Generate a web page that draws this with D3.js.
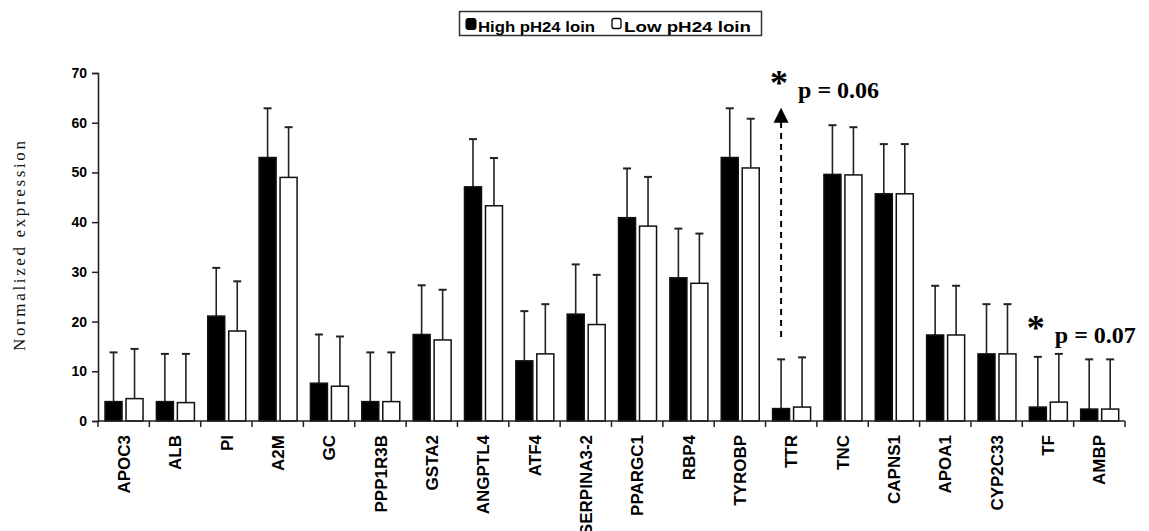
<!DOCTYPE html>
<html><head><meta charset="utf-8">
<script src="https://cdn.jsdelivr.net/npm/d3@7"></script>
<style>body{margin:0;background:#fff}svg{display:block}</style>
</head><body>
<svg id="chart" width="1149" height="531"></svg>
<script>
const categories = ["APOC3","ALB","PI","A2M","GC","PPP1R3B","GSTA2","ANGPTL4","ATF4","SERPINA3-2","PPARGC1","RBP4","TYROBP","TTR","TNC","CAPNS1","APOA1","CYP2C33","TF","AMBP"];
const highValues = [3.9,3.9,21.1,53.0,7.6,3.9,17.4,47.1,12.1,21.5,40.9,28.8,53.0,2.5,49.6,45.7,17.3,13.5,2.8,2.4];
const highErrTop = [13.8,13.5,30.8,62.9,17.4,13.8,27.3,56.7,22.1,31.5,50.8,38.7,62.9,12.4,59.5,55.7,27.2,23.5,12.9,12.4];
const lowValues  = [4.5,3.7,18.1,49.0,7.0,3.9,16.3,43.3,13.5,19.4,39.2,27.7,50.9,2.8,49.5,45.7,17.3,13.5,3.8,2.4];
const lowErrTop  = [14.5,13.5,28.1,59.1,17.0,13.8,26.4,52.9,23.5,29.4,49.1,37.7,60.8,12.8,59.1,55.7,27.2,23.5,13.5,12.4];
const seriesNames = ["High pH24 loin","Low pH24 loin"];
const yTicks = [0,10,20,30,40,50,60,70];
const annotations = [
  {category:"TTR", text:"p = 0.06", textValue:65.0, arrowFrom:16.9, arrowTo:63.0},
  {category:"TF",  text:"p = 0.07", textValue:15.75}
];

const svg = d3.select("#chart");
const x = d3.scaleBand().domain(categories).range([98,1125]).padding(0);
const bw = x.bandwidth();
const xs = d3.scaleBand().domain(["high","low"]).range([bw*0.137, bw*0.877]).paddingInner(0.19).paddingOuter(0);
const y = d3.scaleLinear().domain([0,70]).range([421,73]);

const rows = categories.map((c,i)=>[
  {cat:c, key:"high", v:highValues[i], e:highErrTop[i]},
  {cat:c, key:"low",  v:lowValues[i],  e:lowErrTop[i]}
]).flat();

// error bars
const eb = svg.append("g").attr("stroke","#222").attr("stroke-width",1.6);
rows.forEach(d=>{
  const cx = x(d.cat)+xs(d.key)+xs.bandwidth()/2;
  eb.append("line").attr("x1",cx).attr("x2",cx).attr("y1",y(d.v)).attr("y2",y(d.e));
  eb.append("line").attr("x1",cx-4).attr("x2",cx+4).attr("y1",y(d.e)).attr("y2",y(d.e)).attr("stroke-width",2);
});

// bars
svg.append("g").selectAll("rect").data(rows).join("rect")
  .attr("x",d=>x(d.cat)+xs(d.key))
  .attr("y",d=>y(d.v))
  .attr("width",xs.bandwidth())
  .attr("height",d=>y(0)-y(d.v))
  .attr("fill",d=>d.key==="high"?"#000":"#fff")
  .attr("stroke","#111").attr("stroke-width",1.5);

// y axis
const ya = svg.append("g").attr("transform","translate(98,0)")
  .call(d3.axisLeft(y).tickValues(yTicks).tickSize(6).tickPadding(5));
ya.select(".domain").attr("stroke","#222").attr("stroke-width",1.6);
ya.selectAll(".tick line").attr("stroke","#222").attr("stroke-width",1.5);
ya.selectAll("text").attr("font-family","Liberation Sans, Arial").attr("font-weight","bold")
  .attr("font-size",14).attr("fill","#000");

// x axis
const xa = svg.append("g").attr("transform","translate(0,421)");
xa.append("line").attr("x1",98).attr("x2",1125).attr("stroke","#222").attr("stroke-width",1.6);
xa.selectAll("line.t").data(categories.concat(["__end"])).join("line").attr("class","t")
  .attr("x1",(d,i)=>i<categories.length?x(d):x.range()[1])
  .attr("x2",(d,i)=>i<categories.length?x(d):x.range()[1])
  .attr("y1",0).attr("y2",6).attr("stroke","#222").attr("stroke-width",1.5);
xa.selectAll("text").data(categories).join("text")
  .attr("transform",d=>`translate(${x(d)+bw/2},14) rotate(-90)`)
  .attr("text-anchor","end").attr("dy","0.36em")
  .attr("font-family","Liberation Sans, Arial").attr("font-weight","bold").attr("font-size",17)
  .attr("fill","#000").text(d=>d);

// y label
svg.append("text").attr("transform","translate(25,246) rotate(-90)")
  .attr("text-anchor","middle").attr("font-family","Liberation Serif, Times New Roman")
  .attr("font-size",17).attr("fill","#111").attr("textLength",210).attr("lengthAdjust","spacing")
  .text("Normalized expression");

// legend
const lg = svg.append("g");
lg.append("rect").attr("x",459.5).attr("y",11.5).attr("width",302).attr("height",24)
  .attr("fill","#fff").attr("stroke","#333").attr("stroke-width",1.5);
lg.append("rect").attr("x",466).attr("y",18.5).attr("width",10).attr("height",11).attr("rx",2)
  .attr("fill","#000").attr("stroke","#000");
lg.append("text").attr("x",478).attr("y",32).attr("font-family","Liberation Sans, Arial")
  .attr("font-weight","bold").attr("font-size",14.5).attr("textLength",117).attr("lengthAdjust","spacingAndGlyphs")
  .text(seriesNames[0]);
lg.append("rect").attr("x",612).attr("y",18.5).attr("width",9).attr("height",10).attr("rx",2)
  .attr("fill","#fff").attr("stroke","#000").attr("stroke-width",1.3);
lg.append("text").attr("x",624).attr("y",32).attr("font-family","Liberation Sans, Arial")
  .attr("font-weight","bold").attr("font-size",14.5).attr("textLength",127).attr("lengthAdjust","spacingAndGlyphs")
  .text(seriesNames[1]);

// annotations
annotations.forEach(a=>{
  const cx = x(a.category)+xs("high")+xs.bandwidth()/2;
  if (a.arrowFrom!==undefined){
    svg.append("line").attr("x1",cx).attr("x2",cx).attr("y1",y(a.arrowFrom)).attr("y2",y(a.arrowTo)+14)
      .attr("stroke","#000").attr("stroke-width",2).attr("stroke-dasharray","6,5");
    svg.append("path").attr("d",`M${cx},${y(a.arrowTo)} L${cx-7.5},${y(a.arrowTo)+15} L${cx+7.5},${y(a.arrowTo)+15} Z`).attr("fill","#000");
  }
  const by = y(a.textValue);
  svg.append("text").attr("x",cx-2).attr("y",by-3).attr("text-anchor","middle")
    .attr("font-family","Liberation Serif, Times New Roman").attr("font-weight","bold")
    .attr("font-size",36).text("*");
  svg.append("text").attr("x",cx+17).attr("y",by)
    .attr("font-family","Liberation Serif, Times New Roman").attr("font-weight","bold")
    .attr("font-size",24).text(a.text);
});
</script>
</body></html>
